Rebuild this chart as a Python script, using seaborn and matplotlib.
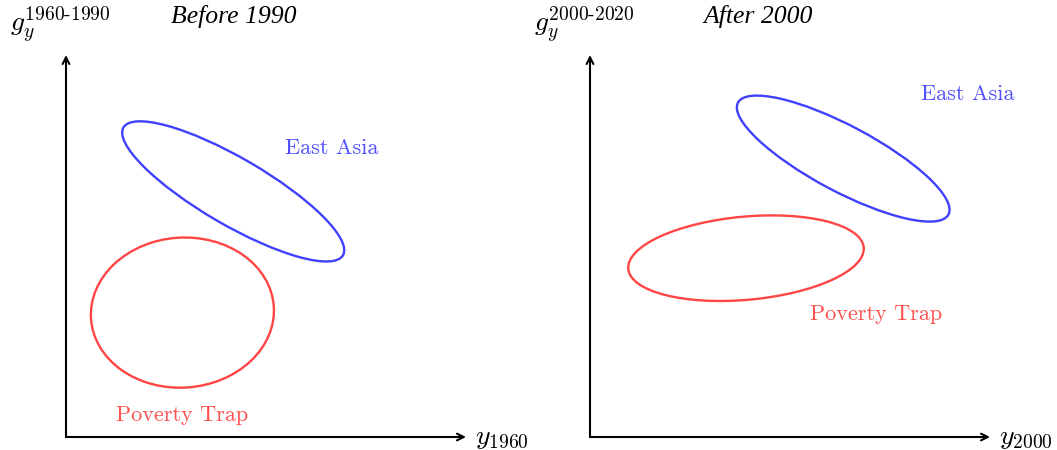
import matplotlib
matplotlib.use("Agg")
import matplotlib.pyplot as plt
from matplotlib.patches import Ellipse
import seaborn as sns

# panels
titles = ["Before 1990", "After 2000"]
xlabels = [r"$y_{1960}$", r"$y_{2000}$"]
ylabels = [r"$g_y^{\mathrm{1960}\text{-}\mathrm{1990}}$",
           r"$g_y^{\mathrm{2000}\text{-}\mathrm{2020}}$"]

# ellipses per panel: East Asia, Poverty Trap  (center x, center y, width, height, angle)
ea_cx = [4.18, 6.33]
ea_cy = [6.14, 6.96]
ea_w = [6.35, 5.96]
ea_h = [1.67, 1.64]
ea_ang = [-30.2, -28.0]

pt_cx = [2.91, 3.90]
pt_cy = [3.11, 4.47]
pt_w = [4.58, 5.91]
pt_h = [3.75, 2.08]
pt_ang = [3.9, 5.2]

# label anchors
ea_lx = [6.65, 9.45]
ea_ly = [7.22, 8.57]
pt_lx = [2.90, 7.15]
pt_ly = [0.55, 3.07]

blue = "#4040ff"
red = "#ff4545"

sns.set_theme(style="white")
plt.rcParams["mathtext.fontset"] = "cm"
plt.rcParams["font.family"] = ["cmr10", "DejaVu Serif"]
plt.rcParams["axes.unicode_minus"] = False
plt.rcParams["text.color"] = "black"

fig = plt.figure(figsize=(10.57, 4.5), dpi=100)
lefts = [66 / 1057, 590 / 1057]

for i in range(2):
    ax = fig.add_axes([lefts[i], 13 / 450, 400 / 1057, 382 / 450])
    ax.set_xlim(0, 10)
    ax.set_ylim(0, 9.55)
    ax.axis("off")

    # axes with arrows
    ax.annotate("", xy=(10, 0), xytext=(0, 0), annotation_clip=False,
                arrowprops=dict(arrowstyle="->", lw=1.5, color="black",
                                shrinkA=0, shrinkB=0))
    ax.annotate("", xy=(0, 9.55), xytext=(0, 0), annotation_clip=False,
                arrowprops=dict(arrowstyle="->", lw=1.5, color="black",
                                shrinkA=0, shrinkB=0))

    ax.add_patch(Ellipse((ea_cx[i], ea_cy[i]), ea_w[i], ea_h[i], angle=ea_ang[i],
                         fill=False, ec=blue, lw=1.7))
    ax.add_patch(Ellipse((pt_cx[i], pt_cy[i]), pt_w[i], pt_h[i], angle=pt_ang[i],
                         fill=False, ec=red, lw=1.7))

    ax.text(ea_lx[i], ea_ly[i], "East Asia", color="#5050ff", fontsize=16,
            ha="center", va="center")
    ax.text(pt_lx[i], pt_ly[i], "Poverty Trap", color="#ff5050", fontsize=16,
            ha="center", va="center")

    ax.text(4.2, 10.52, titles[i], fontsize=18.5, ha="center", va="center",
            family=["Liberation Serif"], style="italic", color="black",
            clip_on=False)
    ax.text(10.22, -0.02, xlabels[i], fontsize=20, ha="left", va="center",
            color="black", clip_on=False)
    ax.text(-1.4, 10.3, ylabels[i], fontsize=20, ha="left", va="center",
            color="black", clip_on=False)

fig.savefig("out.png", dpi=100)
